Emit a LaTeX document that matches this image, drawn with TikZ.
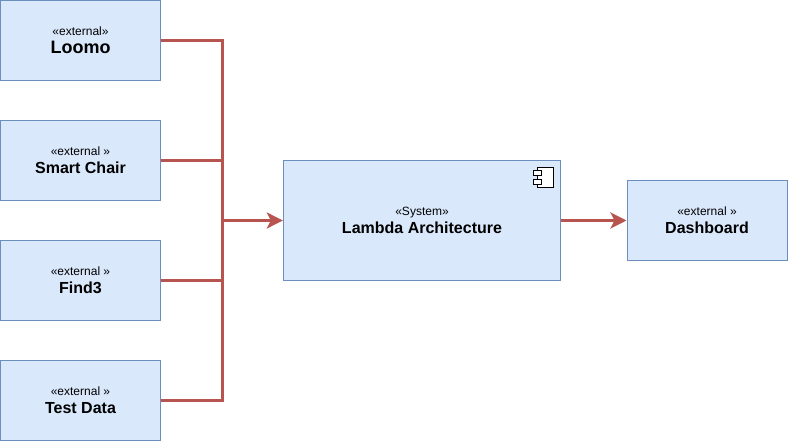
\documentclass[tikz,border=0pt]{standalone}
\usepackage{fontspec}
\setmainfont{Liberation Sans}
\usetikzlibrary{arrows.meta}
\newcommand{\stereo}[1]{{\fontsize{9}{13.5}\selectfont #1}}
\newcommand{\bname}[2][12]{{\fontsize{#1}{13.5}\selectfont\bfseries #2}}
\definecolor{boxfill}{HTML}{DAE8FC}
\definecolor{boxline}{HTML}{6C8EBF}
\definecolor{linkred}{HTML}{B85450}
\tikzset{
  compbox/.style={draw=boxline,fill=boxfill,line width=0.75pt,align=center,inner sep=0pt,
    font=\fontsize{12}{13.5}\selectfont},
  extbox/.style={compbox,minimum width=120pt,minimum height=60pt},
  link/.style={draw=linkred,line width=2.25pt},
  arrowlink/.style={link,-{Stealth[length=12pt,width=12pt,inset=3pt]}},
  iconpart/.style={draw=black,fill=white,line width=0.75pt}
}
\begin{document}
\begin{tikzpicture}[x=0.75pt,y=-0.75pt]
    \useasboundingbox (0,0) rectangle (788,441);
    \coordinate (bus) at (222,220.5);
    %sources
    \node[extbox] (loomo) at (80.5,40.5) {\stereo{«external»}\\\bname[13.5]{Loomo}};
    \foreach \nodeid/\ypos/\title in {chair/160.5/Smart Chair, find/280.5/Find3, test/400.5/Test Data} {
        \node[extbox] (\nodeid) at (80.5,\ypos) {\stereo{«external »}\\\bname{\title}};
    }
    \node[compbox,minimum width=208pt,minimum height=90pt] (system) at (422,220.5) {\stereo{«System»}\\\bname{Lambda Architecture}};
    \node[extbox] (dash) at (707,220.5) {\stereo{«external »}\\\bname{Dashboard}};
    %links
    \draw[link] (loomo.east) -| (bus);
    \draw[link] (test.east) -| (bus);
    \draw[link] (chair.east) -- (chair.east -| bus);
    \draw[link] (find.east) -- (find.east -| bus);
    \draw[arrowlink] (bus) -- (system.west);
    \draw[arrowlink] (system.east) -- (dash.west);
    %component icon
    \draw[iconpart] (537.5,167.5) rectangle (553.5,187.5);
    \draw[iconpart] (533.5,170.5) rectangle (541.5,175.5);
    \draw[iconpart] (533.5,179.5) rectangle (541.5,184.5);
\end{tikzpicture}
\end{document}
